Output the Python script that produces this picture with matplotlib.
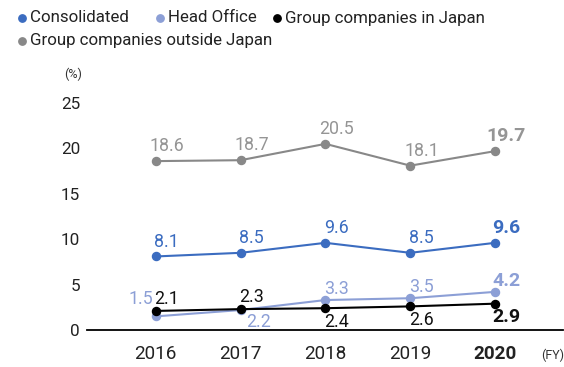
import matplotlib
matplotlib.use("Agg")
import matplotlib.pyplot as plt
from matplotlib.lines import Line2D

plt.rcParams['font.family'] = ['Roboto', 'DejaVu Sans']

years = ["2016", "2017", "2018", "2019", "2020"]
consolidated = [8.1, 8.5, 9.6, 8.5, 9.6]
head_office = [1.5, 2.2, 3.3, 3.5, 4.2]
group_japan = [2.1, 2.3, 2.4, 2.6, 2.9]
group_outside = [18.6, 18.7, 20.5, 18.1, 19.7]
y_ticks = [0, 5, 10, 15, 20, 25]

# name, values, line colour, label colour, label placement, gap above (pt)
series = [
    ("Consolidated", consolidated, "#3b6cc0", "#3b6cc0", ["a"] * 5, 7.0),
    ("Head Office", head_office, "#8c9fd6", "#8c9fd6", ["l", "br", "a", "a", "a"], 4.5),
    ("Group companies in Japan", group_japan, "#000000", "#111111", ["a", "a", "b", "b", "b"], 5.0),
    ("Group companies outside Japan", group_outside, "#888888", "#959595", ["a"] * 5, 7.0),
]

fig = plt.figure(figsize=(5.64, 3.67), dpi=100)
ax = fig.add_axes([87 / 564, 37 / 367, (563 - 87) / 564, (330 - 103) / 367])

x = list(range(len(years)))
for name, vals, color, lcolor, pos, gap in series:
    ax.plot(x, vals, color=color, lw=1.5, marker="o", ms=5.8, zorder=3)
    for i, (xi, v) in enumerate(zip(x, vals)):
        last = i == len(x) - 1
        kw = dict(color=lcolor, fontsize=14 if last else 12.8,
                  fontweight="bold" if last else "normal", va="baseline",
                  textcoords="offset points")
        p = pos[i]
        if p == "a":
            ax.annotate(f"{v:.1f}", (xi, v), xytext=(8, gap), ha="center", **kw)
        elif p == "b":
            ax.annotate(f"{v:.1f}", (xi, v), xytext=(8, -13.5), ha="center", **kw)
        elif p == "br":
            ax.annotate(f"{v:.1f}", (xi, v), xytext=(13, -12.5), ha="center", **kw)
        else:
            ax.annotate(f"{v:.1f}", (xi, v), xytext=(-2, 9), ha="right", **kw)

ax.set_xlim(-0.81, 4.8)
ax.set_ylim(0, 25)
ax.set_yticks(y_ticks)
ax.set_yticklabels([str(t) for t in y_ticks], fontsize=12.3, color="#222222")
ax.set_xticks(x)
ax.set_xticklabels(years, fontsize=13.6, color="#222222")
ax.get_xticklabels()[-1].set_fontweight("bold")
ax.tick_params(axis="both", length=0)
ax.tick_params(axis="x", pad=11)
ax.tick_params(axis="y", pad=5)
for s in ["top", "right", "left"]:
    ax.spines[s].set_visible(False)
ax.spines["bottom"].set_linewidth(1.3)
ax.spines["bottom"].set_color("#000000")

fig.text(73 / 564, 1 - 74 / 367, "(%)", fontsize=9, color="#333333", ha="center", va="center")
fig.text(553 / 564, 1 - 355 / 367, "(FY)", fontsize=9, color="#333333", ha="center", va="center")

# legend laid out in two rows
legend_items = [
    ("Consolidated", "#3b6cc0", 22, 18),
    ("Head Office", "#8c9fd6", 160, 18),
    ("Group companies in Japan", "#000000", 277, 18),
    ("Group companies outside Japan", "#888888", 22, 41),
]
for label, color, px, py in legend_items:
    fig.add_artist(Line2D([px / 564], [1 - py / 367], marker="o", ms=5.3, color=color,
                          lw=0, transform=fig.transFigure))
    fig.text((px + 8) / 564, 1 - py / 367, label, fontsize=12.2, color="#222222",
             ha="left", va="center")

fig.savefig("out.png", dpi=100)
